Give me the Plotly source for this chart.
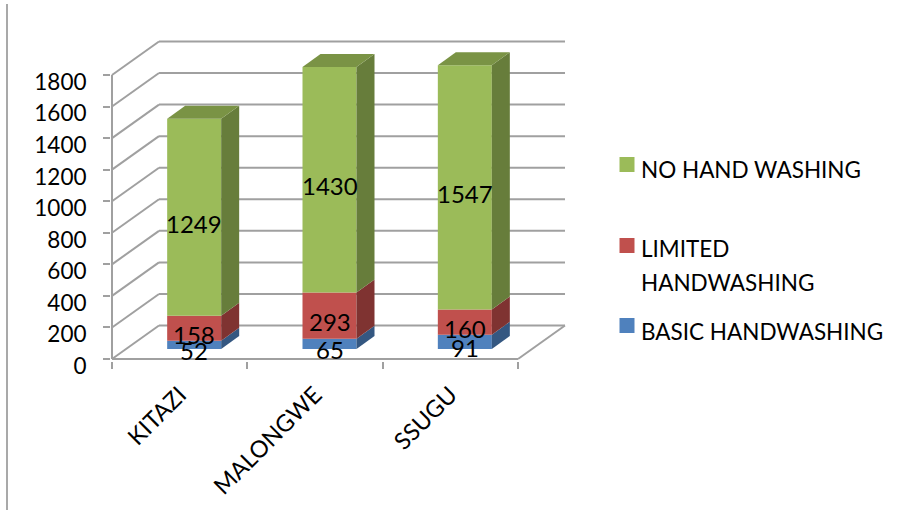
import plotly.graph_objects as go

categories = ["KITAZI", "MALONGWE", "SSUGU"]
basic = [52, 65, 91]
limited = [158, 293, 160]
no_wash = [1249, 1430, 1547]
y_ticks = [0, 200, 400, 600, 800, 1000, 1200, 1400, 1600, 1800]

series = [basic, limited, no_wash]
front = ["#4F81BD", "#C0504D", "#9BBB59"]
side = ["#345781", "#7F3331", "#677D3B"]
top = ["#3F6797", "#99403D", "#7A9345"]
legend_rows = [
    (front[2], 164.5, [("NO HAND WASHING", 169)]),
    (front[1], 245.5, [("LIMITED", 249), ("HANDWASHING", 282)]),
    (front[0], 325.5, [("BASIC HANDWASHING", 331)]),
]
GRID = "#A0A0A0"
FONT = "Lato"
FS = 22.5

W, H = 899, 516
L, R, T, B = 112, 518, 75, 359
PAD = 1.5
px_x = (R - L) / 3
px_y = (B - T) / 1800
wall_dx, wall_dy = 47 / px_x, 33.5 / px_y
bar_dx, bar_dy = 18 / px_x, 13 / px_y
lift_dx, lift_dy = 14.5 / px_x, 10 / px_y
bar_w = 54 / px_x

fig = go.Figure()
shapes = []


def line(x0, y0, x1, y1):
    shapes.append(dict(type="line", xref="x", yref="y", x0=x0, y0=y0, x1=x1, y1=y1,
                       line=dict(color=GRID, width=2), layer="below"))


for v in y_ticks:
    line(0, v, wall_dx, v + wall_dy)
    line(wall_dx, v + wall_dy, 3 + wall_dx, v + wall_dy)
line(0, 0, 0, 1800)
line(0, 0, 3, 0)
line(3, 0, 3 + wall_dx, wall_dy)

annotations = []
cum = [0, 0, 0]
polys = []
for s, vals in enumerate(series):
    xs = [i + 0.5 + lift_dx for i in range(3)]
    bases = [cum[i] + lift_dy for i in range(3)]
    fig.add_trace(go.Bar(x=xs, y=vals, base=bases, width=bar_w, marker=dict(color=front[s], line=dict(width=0)),
                         showlegend=False, hoverinfo="skip"))
    for i in range(3):
        x0, x1 = xs[i] - bar_w / 2, xs[i] + bar_w / 2
        y0, y1 = bases[i], bases[i] + vals[i]
        polys.append(([x1, x1 + bar_dx, x1 + bar_dx, x1, x1], [y0, y0 + bar_dy, y1 + bar_dy, y1, y0], side[s]))
        if s == 2:
            polys.append(([x0, x0 + bar_dx, x1 + bar_dx, x1, x0], [y1, y1 + bar_dy, y1 + bar_dy, y1, y1], top[s]))
        annotations.append(dict(x=xs[i], y=(y0 + y1) / 2, xref="x", yref="y", text=str(vals[i]), showarrow=False,
                                yshift=-6, font=dict(family=FONT, size=24, color="black")))
        cum[i] += vals[i]

for px, py, c in polys:
    fig.add_trace(go.Scatter(x=px, y=py, mode="lines", fill="toself", fillcolor=c, line=dict(width=0),
                             showlegend=False, hoverinfo="skip"))

for color, ym, rows in legend_rows:
    shapes.append(dict(type="rect", xref="paper", yref="paper", x0=619.5 / W, x1=634.5 / W,
                       y0=1 - (ym + 7.5) / H, y1=1 - (ym - 7.5) / H, fillcolor=color, line=dict(width=0)))
    for txt, yc in rows:
        annotations.append(dict(x=639 / W, y=1 - yc / H, xref="paper", yref="paper", xanchor="left", yanchor="middle",
                                text=txt, showarrow=False, font=dict(family=FONT, size=FS, color="black")))

shapes.append(dict(type="line", xref="paper", yref="paper", x0=7 / W, x1=7 / W, y0=1 - 510 / H, y1=1 - 4 / H,
                   line=dict(color="#8C8C8C", width=1.5)))

fig.add_trace(go.Scatter(x=[0, 0], y=[0, 1800], yaxis="y2", mode="markers", marker=dict(opacity=0),
                         showlegend=False, hoverinfo="skip"))

x_range = [-PAD / px_x, 3 + wall_dx + PAD / px_x]
y_range = [-PAD / px_y, 1800 + wall_dy + PAD / px_y]
x_dom = [(L - PAD) / W, (R + 47 + PAD) / W]
y_top = T - 33.5 - PAD
y_bot = B + PAD
y_dom = [1 - y_bot / H, 1 - y_top / H]
shift = 7 / H

fig.update_layout(
    width=W, height=H, autosize=False, barmode="overlay", showlegend=False,
    margin=dict(l=0, r=0, t=0, b=0, pad=0, autoexpand=False),
    paper_bgcolor="white", plot_bgcolor="rgba(0,0,0,0)",
    font=dict(family=FONT, color="black", size=FS),
    shapes=shapes, annotations=annotations,
    xaxis=dict(range=x_range, domain=x_dom, tickvals=[0.5, 1.5, 2.5], ticktext=categories, tickangle=-45,
               showgrid=False, zeroline=False, showline=False, ticks="",
               ticklabelstandoff=15, tickfont=dict(family=FONT, size=23.5),
               minor=dict(tickvals=[0, 1, 2, 3], ticks="outside", ticklen=7, tickwidth=2, tickcolor=GRID, showgrid=False)),
    yaxis=dict(range=y_range, domain=y_dom, tickvals=y_ticks, showticklabels=False,
               showgrid=False, zeroline=False, showline=False, ticks="outside", ticklen=7, tickwidth=2, tickcolor=GRID),
    yaxis2=dict(range=y_range, domain=[y_dom[0] - shift, y_dom[1] - shift], anchor="x", tickvals=y_ticks,
                showgrid=False, zeroline=False, showline=False, ticks="", ticklabelstandoff=23,
                tickfont=dict(family=FONT, size=FS)),
)

fig.write_html("out.html", config=dict(displayModeBar=False),
               post_script="document.body.style.margin='0';document.documentElement.style.overflow='hidden';")
